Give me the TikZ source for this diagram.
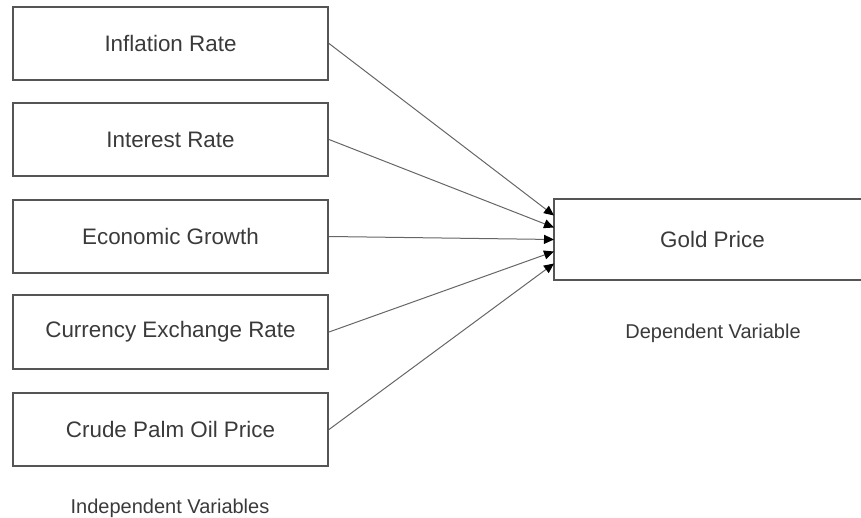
\documentclass[tikz,border=0pt]{standalone}
\usepackage{fontspec}
\setmainfont{Liberation Sans}
\usetikzlibrary{arrows.meta}
\definecolor{boxgray}{HTML}{555555}
\definecolor{txtgray}{HTML}{3A3A3A}
\tikzset{
  var/.style={draw=boxgray, line width=2pt, minimum width=315pt, minimum height=73pt,
    inner sep=0pt, text=txtgray, font=\fontsize{22.4}{27}\selectfont},
  lab/.style={text=txtgray, font=\fontsize{20}{24}\selectfont},
  link/.style={draw=black!60, line width=1pt, -{Triangle[length=10pt,width=9pt,color=black]}}
}
\begin{document}
\begin{tikzpicture}[x=1pt,y=-1pt]
\useasboundingbox (0,0) rectangle (861,518);
\clip (0,0) rectangle (861,518);
  \node[var] (INF) at (170.5,43.5) {Inflation Rate};
  \node[var] (INT) at (170.5,139.5) {Interest Rate};
  \node[var] (ECO) at (170.5,236.5) {Economic Growth};
  \node[var] (CUR) at (170.5,332) {Currency Exchange Rate};
  \node[var] (CPO) at (170.5,429.5) {Crude Palm Oil Price};
  % right side of the box runs off the page
  \node[var,draw=none,minimum height=79pt] (GOLD) at (712.5,239.5) {Gold Price};
  \draw[boxgray,line width=2pt] ([xshift=30pt]GOLD.north east) -- (GOLD.north west)
    -- (GOLD.south west) -- ([xshift=30pt]GOLD.south east);
  \node[lab] (IND) at (170,508) {Independent Variables};
  \node[lab] (DEP) at (713,333) {Dependent Variable};
  \draw[link] (INF.east) -- ([yshift=24pt]GOLD.west);
  \draw[link] (INT.east) -- ([yshift=12pt]GOLD.west);
  \draw[link] (ECO.east) -- (GOLD.west);
  \draw[link] (CUR.east) -- ([yshift=-12pt]GOLD.west);
  \draw[link] (CPO.east) -- ([yshift=-24pt]GOLD.west);
\end{tikzpicture}
\end{document}
